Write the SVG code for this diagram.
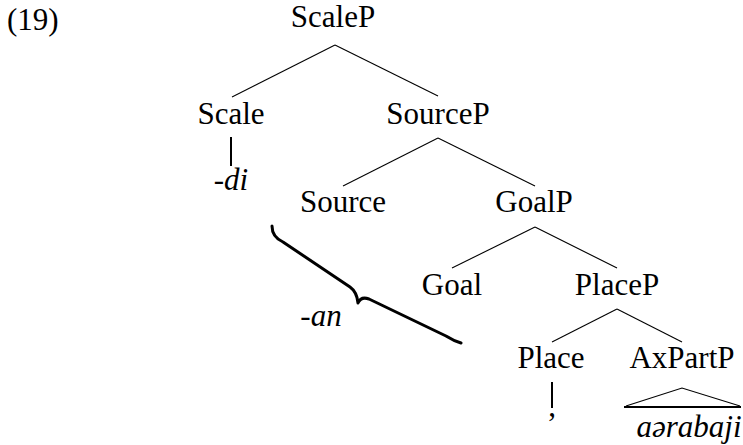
<svg xmlns="http://www.w3.org/2000/svg" width="743" height="445" viewBox="0 0 743 445">
<style>
text{font-size:31px;fill:#000}
.n{text-anchor:middle}
.i{font-style:italic}
.e{stroke:#000;stroke-width:1.1;fill:none}
.t{stroke:#000;stroke-width:2;fill:none}
.br{stroke:#000;stroke-width:3;fill:none;stroke-linecap:round;stroke-linejoin:round}
</style>
<rect width="743" height="445" fill="#fff"/>
<g font-family="Liberation Serif, DejaVu Serif, serif">
<g id="label"><text x="7" y="30">(19)</text></g>
<g id="ScaleP"><text class="n" x="333" y="27">ScaleP</text></g>
<g id="Scale"><text class="n" x="231" y="124">Scale</text></g>
<g id="di"><text class="n i" x="231" y="190">-di</text></g>
<g id="SourceP"><text class="n" x="438" y="124">SourceP</text></g>
<g id="Source"><text class="n" x="343" y="212">Source</text></g>
<g id="GoalP"><text class="n" x="534" y="212">GoalP</text></g>
<g id="Goal"><text class="n" x="452" y="295">Goal</text></g>
<g id="PlaceP"><text class="n" x="617" y="295">PlaceP</text></g>
<g id="Place"><text class="n" x="551" y="368">Place</text></g>
<g id="comma"><text class="n" x="552" y="416">,</text></g>
<g id="AxPartP"><text class="n" x="682" y="368">AxPartP</text></g>
<g id="aerabaji"><text class="n i" x="689" y="437">aərabaji</text></g>
<g id="an"><text class="n i" x="321" y="326">-an</text></g>
</g>
<g id="connectors">
<line class="e" x1="335" y1="45" x2="232" y2="97"/>
<line class="e" x1="335" y1="45" x2="438" y2="96"/>
<line class="t" x1="231" y1="137" x2="231" y2="166"/>
<line class="e" x1="438" y1="138" x2="343" y2="186"/>
<line class="e" x1="438" y1="138" x2="535" y2="186"/>
<line class="e" x1="535" y1="227" x2="452" y2="268"/>
<line class="e" x1="535" y1="227" x2="617" y2="268"/>
<line class="e" x1="617" y1="309" x2="552" y2="342"/>
<line class="e" x1="617" y1="309" x2="682" y2="342"/>
<line class="t" x1="552" y1="382" x2="552" y2="408"/>
<polyline class="e" points="626,406 682,388 740,406"/>
<line class="t" x1="624" y1="407" x2="741" y2="407"/>
<path class="br" d="M272,226 Q272,237 283,242 L350,287 Q357,292 358,303 Q361,296 369,299 L446,336 Q454,341 461,343"/>
</g>
</svg>
